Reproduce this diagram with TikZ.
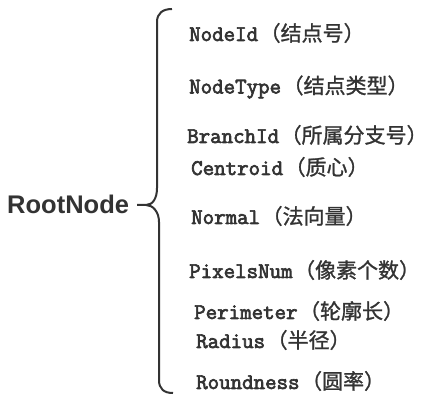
\documentclass[tikz,border=0pt]{standalone}
\usepackage{fontspec}
\setsansfont{Liberation Sans}
\newfontfamily\cjk{Noto Sans CJK SC}[FakeBold=1.2]
\newfontfamily\monofield{Latin Modern Mono}[FakeBold=3]
\usepackage{xcolor}
\usetikzlibrary{positioning}

\definecolor{inkgray}{HTML}{333333}
\newcommand{\field}[2]{{\fontsize{22.3}{26}\selectfont\monofield #1}\hspace{1.5pt}{\cjk（#2）}}

\begin{document}
\begin{tikzpicture}[
    x=1pt, y=-1pt,
    root/.style={font=\fontsize{25.5}{29}\selectfont\sffamily\bfseries, text=inkgray, inner sep=0pt, anchor=west},
    item/.style={font=\fontsize{21}{25}\selectfont, text=inkgray, inner sep=0pt, anchor=west},
    brace/.style={draw=inkgray, line width=2pt, line join=round}
]
\useasboundingbox (0,0) rectangle (431,398);

% Root
\node[root] (rootnode) at (7,204) {RootNode};

% Fields
\node[item] (nodeid) at (189,33) {\field{NodeId}{结点号}};
\node[item] (nodetype) at (189,87) {\field{NodeType}{结点类型}};
\node[item] (branchid) at (187,135) {\field{BranchId}{所属分支号}};
\node[item] (centroid) at (191,167) {\field{Centroid}{质心}};
\node[item] (normal) at (191,216) {\field{Normal}{法向量}};
\node[item] (pixelsnum) at (189,270) {\field{PixelsNum}{像素个数}};
\node[item] (perimeter) at (194,311) {\field{Perimeter}{轮廓长}};
\node[item] (radius) at (196,340) {\field{Radius}{半径}};
\node[item] (roundness) at (196,381) {\field{Roundness}{圆率}};

% Brace
\coordinate (tip) at (137,205);
\draw[brace] (tip) -- (146,205) .. controls (153,205) and (157,198) .. (157,188)
    -- (157,22) .. controls (157,13) and (163,9) .. (172,9);
\draw[brace] (146,205) .. controls (153,205) and (159,212) .. (159,222)
    -- (159,380) .. controls (159,389) and (164,393) .. (173,393);
\end{tikzpicture}
\end{document}
